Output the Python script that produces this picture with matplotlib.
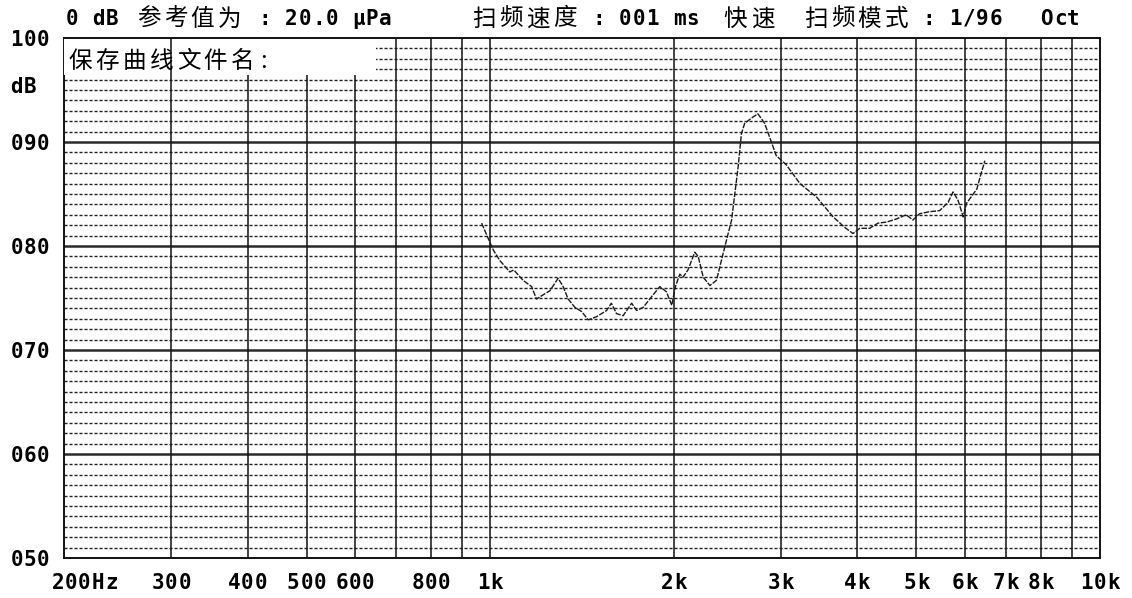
import matplotlib
matplotlib.use("Agg")
import matplotlib.pyplot as plt
from matplotlib.patches import Rectangle

# curve
freq_hz = [968, 998, 1012, 1037, 1077, 1093, 1132, 1169, 1191, 1221,
           1253, 1292, 1317, 1342, 1377, 1412, 1448, 1494, 1552, 1580,
           1611, 1652, 1706, 1738, 1782, 1838, 1897, 1945, 1985, 2010,
           2046, 2071, 2110, 2165, 2193, 2235, 2292, 2350, 2410, 2488,
           2550, 2582, 2614, 2697, 2749, 2818, 2871, 2944, 3060, 3220,
           3430, 3650, 3812, 3935, 4036, 4190, 4325, 4467, 4636, 4810,
           4934, 5059, 5254, 5457, 5636, 5741, 5850, 5966, 6040, 6197,
           6283, 6356, 6474]
level_db = [82.2, 80.4, 79.6, 78.6, 77.5, 77.7, 76.7, 76.1, 74.9, 75.3,
            75.7, 76.9, 76.1, 74.9, 74.1, 73.7, 72.9, 73.2, 73.8, 74.5,
            73.5, 73.3, 74.5, 73.8, 74.1, 75.1, 76.1, 75.6, 74.3, 76.0,
            77.3, 77.0, 77.7, 79.4, 79.0, 77.0, 76.2, 76.7, 79.3, 82.5,
            87.6, 90.8, 91.8, 92.4, 92.7, 91.8, 90.5, 88.7, 87.8, 86.0,
            84.7, 82.8, 81.8, 81.2, 81.7, 81.7, 82.2, 82.3, 82.6, 83.0,
            82.5, 83.1, 83.3, 83.4, 84.2, 85.2, 84.4, 82.8, 84.1, 85.0,
            85.5, 86.6, 88.2]

x_ticks = [200, 300, 400, 500, 600, 800, 1000, 2000, 3000, 4000,
           5000, 6000, 7000, 8000, 10000]
x_labels = ['200Hz', '300', '400', '500', '600', '800', '1k', '2k', '3k',
            '4k', '5k', '6k', '7k', '8k', '10k']
v_lines = [300, 400, 500, 600, 700, 800, 900, 1000, 2000, 3000, 4000,
           5000, 6000, 7000, 8000, 9000]
y_ticks = [100, 90, 80, 70, 60, 50]
y_labels = ['100', '090', '080', '070', '060', '050']

header = [(65, '0 dB', 'mono'), (135, '参考值为', 'cjk'),
          (258, ': 20.0 μPa', 'mono'), (470, '扫频速度', 'cjk'),
          (592, ': 001 ms', 'mono'), (722, '快速', 'cjk'),
          (802, '扫频模式', 'cjk'), (922, ': 1/96', 'mono'),
          (1040, 'Oct', 'mono')]

MONO = ['DejaVu Sans Mono']
CJK = ['Noto Sans CJK SC', 'DejaVu Sans']
W, H = 1132, 598
MONO_PITCH = 13.4
CJK_PITCH = 27


def spaced(x0, y_top, s, kind, ha='left'):
    # bitmap-like text: one glyph per fixed-width cell
    pitch = MONO_PITCH if kind == 'mono' else CJK_PITCH
    if ha == 'center':
        x0 = x0 - len(s) * pitch / 2
    for i, ch in enumerate(s):
        if ch == ' ':
            continue
        if kind == 'mono':
            fig.text((x0 + (i + 0.5) * pitch) / W, 1 - y_top / H, ch,
                     ha='center', va='center', family=MONO,
                     fontweight='bold', fontsize=15)
        else:
            fig.text((x0 + (i + 0.5) * pitch) / W, 1 - y_top / H, ch,
                     ha='center', va='center', family=CJK, fontsize=17)


fig = plt.figure(figsize=(W / 100, H / 100), dpi=100)
fig.patch.set_facecolor('white')
ax = fig.add_axes([64 / W, 40 / H, 1036 / W, 520 / H])
ax.set_xscale('log')
ax.set_xlim(200, 10000)
ax.set_ylim(50, 100)
ax.set_xticks([])
ax.set_yticks([])
ax.minorticks_off()
for s in ax.spines.values():
    s.set_linewidth(1.4)
    s.set_color('#111111')

# 1 dB dotted grid
for db in range(51, 100):
    if db % 10:
        ax.axhline(db, color='#222222', lw=1.0, ls=(0, (2.2, 1.4)), zorder=1)
for db in range(60, 100, 10):
    ax.axhline(db, color='#2a2a2a', lw=1.8, zorder=2)
for f in v_lines:
    # the 300 Hz line runs through the caption box in the original
    ax.axvline(f, color='#111111', lw=1.1, zorder=4 if f == 300 else 2)

# blank box behind the file-name caption
ax.add_patch(Rectangle((200, 96.4), 450, 3.5, facecolor='white',
                       edgecolor='none', zorder=3))

ax.plot(freq_hz, level_db, color='#1a1a1a', lw=1.0, ls=(0, (4, 1)),
        zorder=5)

# labels in pixel positions taken from the axes transform
for f, lab in zip(x_ticks, x_labels):
    xd = ax.transData.transform((f, 50))[0]
    if lab.endswith('Hz'):
        spaced(xd - 13, 583, lab, 'mono')
    else:
        spaced(xd, 583, lab, 'mono', ha='center')

for v, lab in zip(y_ticks, y_labels):
    yd = ax.transData.transform((200, v))[1]
    spaced(10, H - yd + 2, lab, 'mono')
spaced(10, 87, 'dB', 'mono')

for x, txt, kind in header:
    spaced(x, 19, txt, kind)

spaced(67, 61, '保存曲线文件名', 'cjk')
fig.text((67 + 7 * CJK_PITCH + 4) / W, 1 - 61 / H, ':', ha='left',
         va='center', family=CJK, fontsize=17)

fig.savefig('out.png', dpi=100, facecolor='white')
